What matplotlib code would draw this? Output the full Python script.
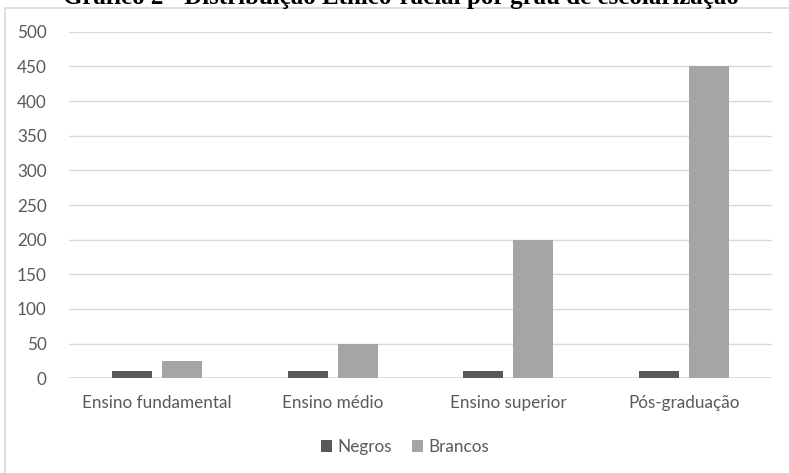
import numpy as np
import matplotlib.pyplot as plt
from matplotlib.patches import Rectangle

categorias = ["Ensino fundamental", "Ensino médio", "Ensino superior", "Pós-graduação"]
negros = [10, 10, 10, 10]
brancos = [25, 50, 200, 450]
yticks = [0, 50, 100, 150, 200, 250, 300, 350, 400, 450, 500]

titulo = "Gráfico 2 - Distribuição Étnico-racial por grau de escolarização"

W, H = 789, 473
fig = plt.figure(figsize=(W / 100, H / 100), dpi=100)

# moldura do gráfico (cortada à direita e embaixo)
fig.patches.append(Rectangle((5 / W, -0.05), 1.0, (H - 8) / H + 0.05,
                             transform=fig.transFigure, fill=False,
                             edgecolor="#D9D9D9", linewidth=1.2))

ax = fig.add_axes([69 / W, 1 - 378.3 / H, (772 - 69) / W, (378.3 - 31.7) / H])

x = np.arange(len(categorias))
w = 0.228
off = 0.1425
ax.bar(x - off, negros, w, color="#595959", label="Negros", zorder=3)
ax.bar(x + off, brancos, w, color="#A5A5A5", label="Brancos", zorder=3)

ax.set_xlim(-0.5, len(categorias) - 0.5)
ax.set_ylim(0, 500)
ax.set_yticks(yticks)
ax.set_xticks(x)
ax.set_xticklabels(categorias)

font = "Lato"
fs = 12.3
for lab in ax.get_xticklabels() + ax.get_yticklabels():
    lab.set_fontfamily(font)
    lab.set_fontsize(fs)
    lab.set_color("#595959")

ax.tick_params(axis="both", length=0)
ax.tick_params(axis="y", pad=16)
ax.tick_params(axis="x", pad=12)
ax.yaxis.grid(True, color="#D9D9D9", linewidth=1.0, zorder=0)
for s in ax.spines.values():
    s.set_visible(False)
ax.axhline(0, color="#D9D9D9", linewidth=1.2, zorder=2)

leg = fig.legend(loc="center", bbox_to_anchor=(405 / W, 1 - 447 / H), ncol=2,
                 frameon=False, handlelength=0.65, handleheight=0.65,
                 handletextpad=0.3, columnspacing=1.2,
                 prop={"family": font, "size": fs})
for t in leg.get_texts():
    t.set_color("#595959")

fig.text(401 / W, 1 - 4 / H, titulo, ha="center", va="baseline",
         fontfamily="Liberation Serif", fontweight="bold", fontsize=18)

fig.savefig("out.png", dpi=100)
